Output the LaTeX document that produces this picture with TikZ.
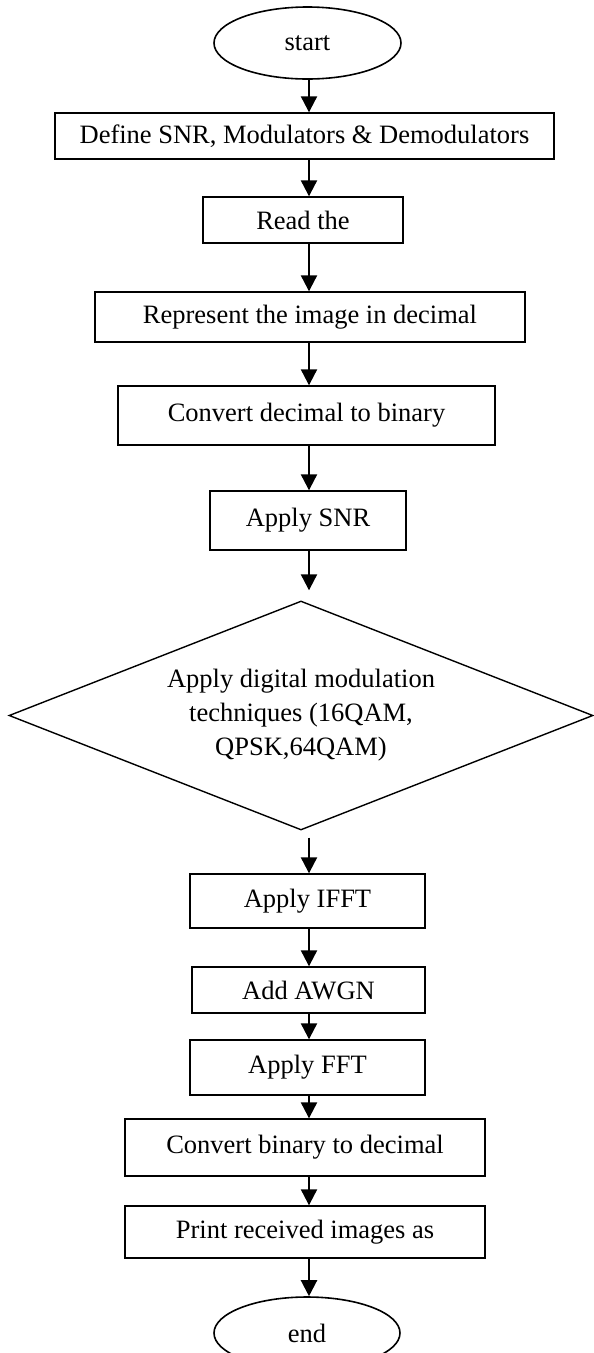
\documentclass[tikz,border=0pt]{standalone}
\usepackage{fontspec}
\setmainfont{Liberation Serif}
\usetikzlibrary{shapes.geometric,arrows.meta}
\begin{document}
\begin{tikzpicture}[x=1pt,y=-1pt,
  font=\fontsize{26.5}{34}\selectfont,
  box/.style={draw, rectangle, line width=1.4pt, inner sep=0pt, align=center},
  term/.style={draw, ellipse, line width=1.6pt, inner sep=0pt},
  decide/.style={draw, diamond, aspect=2.55, line width=1.4pt, inner sep=0pt, align=center},
  arr/.style={-{Triangle[length=16pt,width=16pt]}, line width=2.2pt}]
\path[use as bounding box] (0,0) rectangle (594,1353);
\clip (0,0) rectangle (594,1353);

% vertical line that all connectors follow
\coordinate (axis) at (309,0);

% terminals and process steps
\node[term, minimum width=187pt, minimum height=72pt] (start) at (307.5,43) {start};
\node[box, minimum width=499pt, minimum height=46pt] (define) at (304.5,136) {Define SNR, Modulators \& Demodulators};
\node[box, minimum width=200pt, minimum height=46pt] (read) at (303,220) {Read the};
\node[box, minimum width=430pt, minimum height=50pt] (repr) at (310,317) {Represent the image in decimal};
\node[box, minimum width=377pt, minimum height=59pt] (convdb) at (306.5,415.5) {Convert decimal to binary};
\node[box, minimum width=196pt, minimum height=59pt] (snr) at (308,520.5) {Apply SNR};
\node[decide, minimum width=584pt, minimum height=229pt] (mod) at (301,715.5)
  {Apply digital modulation\\techniques (16QAM,\\QPSK,64QAM)};
\node[box, minimum width=235pt, minimum height=54pt] (ifft) at (307.5,901) {Apply IFFT};
\node[box, minimum width=233pt, minimum height=46pt] (awgn) at (308.5,990) {Add AWGN};
\node[box, minimum width=235pt, minimum height=55pt] (fft) at (307.5,1067.5) {Apply FFT};
\node[box, minimum width=360pt, minimum height=57pt] (convbd) at (305,1147.5) {Convert binary to decimal};
\node[box, minimum width=360pt, minimum height=52pt] (print) at (305,1232) {Print received images as};
\node[term, minimum width=186pt, minimum height=72pt] (end) at (307,1333) {end};

% flow connectors
\draw[arr] (start.south -| axis) -- (define.north -| axis);
\draw[arr] (define.south -| axis) -- (read.north -| axis);
\draw[arr] (read.south -| axis) -- (repr.north -| axis);
\draw[arr] (repr.south -| axis) -- (convdb.north -| axis);
\draw[arr] (convdb.south -| axis) -- (snr.north -| axis);
\draw[arr, shorten >=10pt] (snr.south -| axis) -- (mod.north -| axis);
\draw[arr, shorten <=7pt] (mod.south -| axis) -- (ifft.north -| axis);
\draw[arr] (ifft.south -| axis) -- (awgn.north -| axis);
\draw[arr] (awgn.south -| axis) -- (fft.north -| axis);
\draw[arr] (fft.south -| axis) -- (convbd.north -| axis);
\draw[arr] (convbd.south -| axis) -- (print.north -| axis);
\draw[arr] (print.south -| axis) -- (end.north -| axis);
\end{tikzpicture}
\end{document}
